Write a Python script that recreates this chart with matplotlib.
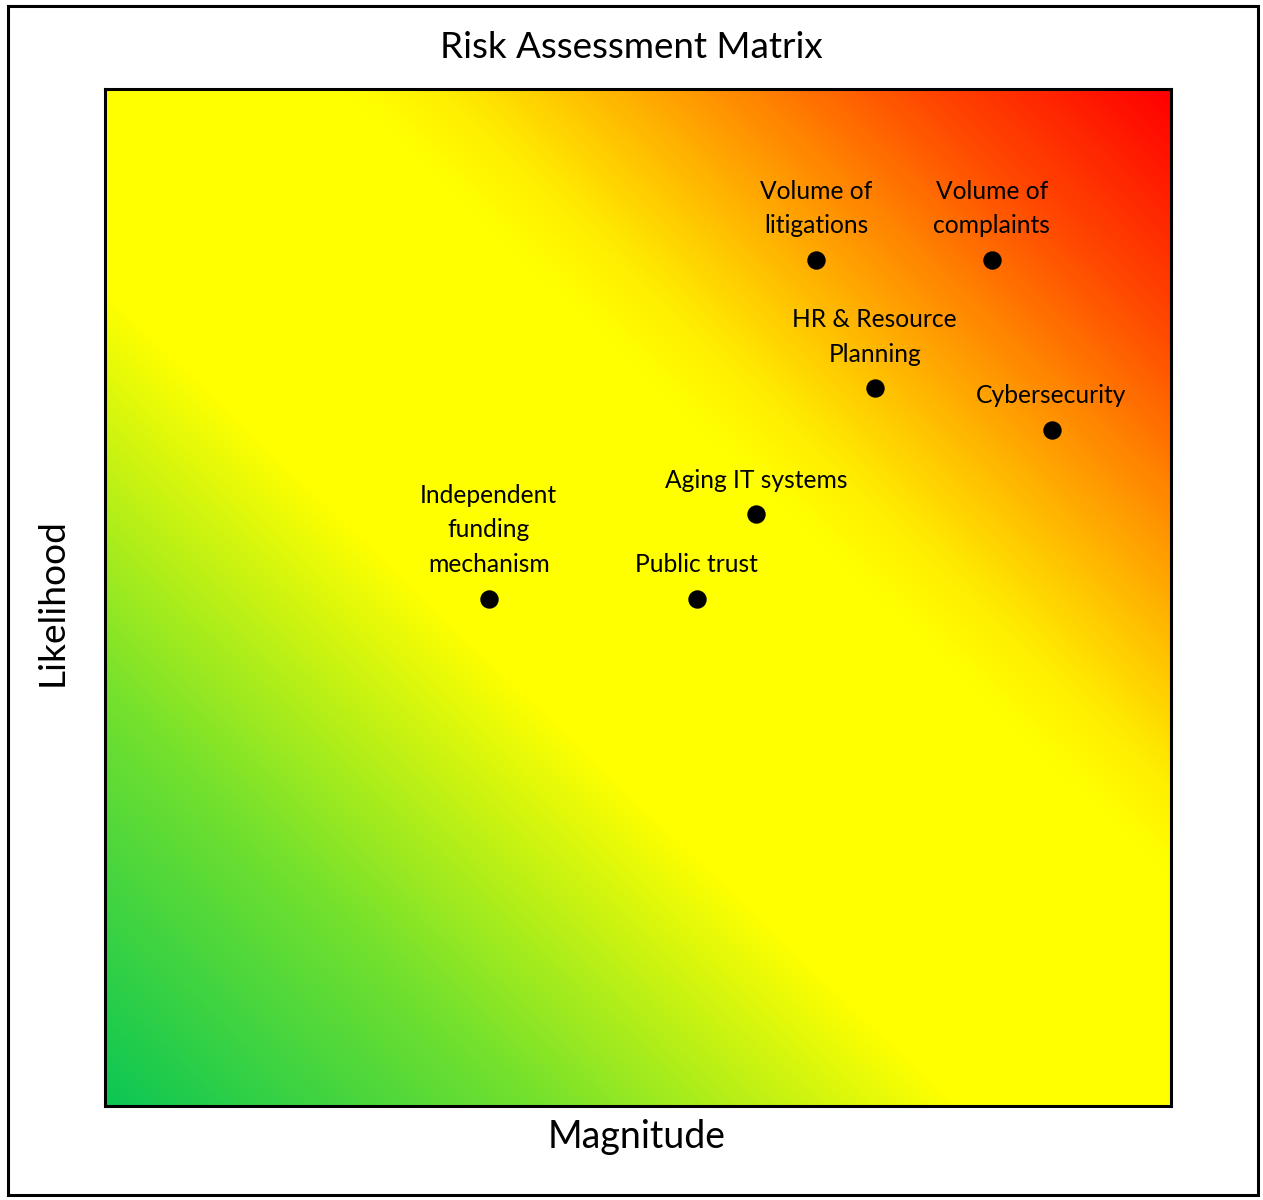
import numpy as np
import matplotlib
matplotlib.use("Agg")
import matplotlib.pyplot as plt
from matplotlib.colors import LinearSegmentedColormap
from matplotlib.patches import Rectangle

plt.rcParams['font.family'] = ['Lato', 'DejaVu Sans']

risks = ["Volume of\nlitigations", "Volume of\ncomplaints", "HR & Resource\nPlanning",
         "Cybersecurity", "Aging IT systems", "Independent\nfunding\nmechanism", "Public trust"]
magnitude = [6.67, 8.32, 7.22, 8.88, 6.11, 3.60, 5.55]
likelihood = [8.32, 8.32, 7.06, 6.65, 5.82, 4.99, 4.99]

title = "Risk Assessment Matrix"
xlabel = "Magnitude"
ylabel = "Likelihood"

fig = plt.figure(figsize=(12.63, 12.0), dpi=100)
ax = fig.add_axes([105/1263, 94/1200, 1066/1263, 1017/1200])

cmap = LinearSegmentedColormap.from_list("risk", [
    (0.0, (0.05, 0.78, 0.33)),
    (0.20, (0.45, 0.88, 0.18)),
    (0.40, (1.0, 1.0, 0.0)),
    (0.615, (1.0, 1.0, 0.0)),
    (0.66, (1.0, 0.93, 0.0)),
    (0.70, (1.0, 0.82, 0.0)),
    (0.80, (1.0, 0.53, 0.0)),
    (0.88, (1.0, 0.29, 0.0)),
    (1.0, (1.0, 0.0, 0.0)),
])
n = 400
gx, gy = np.meshgrid(np.linspace(0, 1, n), np.linspace(0, 1, n))
s = (gx + gy) / 2
ax.imshow(s, cmap=cmap, origin='lower', extent=[0, 10, 0, 10], aspect='auto',
          interpolation='bilinear', vmin=0, vmax=1, zorder=0)

ax.scatter(magnitude, likelihood, s=150, color='black', zorder=3)
for lab, x, y in zip(risks, magnitude, likelihood):
    ax.annotate(lab, (x, y), xytext=(0, 19), textcoords='offset points',
                ha='center', va='baseline', multialignment='center',
                fontsize=17.7, linespacing=1.62, zorder=4)

ax.set_xlim(0, 10)
ax.set_ylim(0, 10)
ax.set_xticks([])
ax.set_yticks([])
for sp in ax.spines.values():
    sp.set_linewidth(2.2)
    sp.set_color('black')

fig.text(631/1263, 1 - 47/1200, title, ha='center', va='center', fontsize=26.5)
fig.text(637/1263, 1 - 1137/1200, xlabel, ha='center', va='center', fontsize=27)
fig.text(52/1263, 1 - 602/1200, ylabel, ha='center', va='center', fontsize=26.7, rotation=90)

fig.patches.append(Rectangle((8/1263, 5/1200), 1250/1263, 1189/1200, transform=fig.transFigure,
                             fill=False, edgecolor='black', linewidth=2.2))

fig.savefig("out.png", dpi=100)
